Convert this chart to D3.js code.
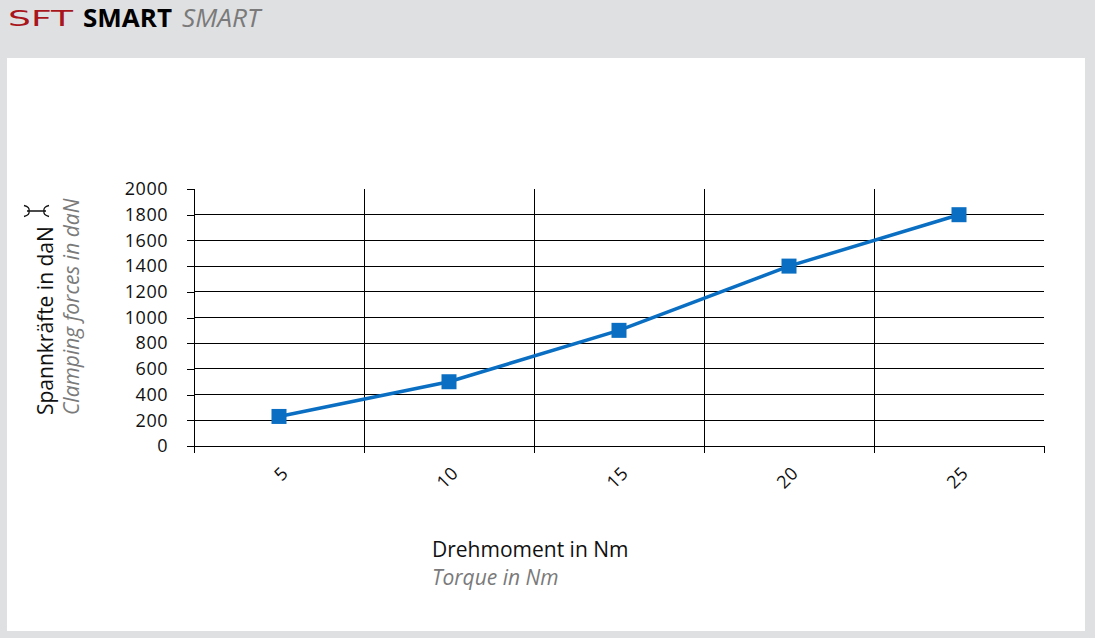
<!DOCTYPE html>
<html><head><meta charset="utf-8">
<script src="https://cdn.jsdelivr.net/npm/d3@7"></script>
<style>html,body{margin:0;padding:0;background:#dfe0e2;}svg{display:block;}</style>
</head><body>
<svg id="c" width="1095" height="638"></svg>
<script>
const categories = ["5", "10", "15", "20", "25"];
const values = [230, 500, 900, 1400, 1800];
const yTicks = [0, 200, 400, 600, 800, 1000, 1200, 1400, 1600, 1800, 2000];

const svg = d3.select("#c");
const font = "'Open Sans', 'Noto Sans', sans-serif";
svg.append("rect").attr("x",0).attr("y",0).attr("width",1095).attr("height",638).attr("fill","#dfe0e2");
svg.append("rect").attr("x",7).attr("y",58).attr("width",1078).attr("height",573).attr("fill","#ffffff");

// Header
svg.append("text").attr("x",8).attr("y",26).attr("font-family","'DejaVu Sans', sans-serif").attr("font-size",21)
  .attr("fill","#a8151b")
  .attr("textLength",65).attr("lengthAdjust","spacingAndGlyphs").text("SFT");
svg.append("text").attr("x",83).attr("y",27).attr("font-family",font).attr("font-size",25).attr("font-weight",700)
  .attr("fill","#000").attr("textLength",89).attr("lengthAdjust","spacingAndGlyphs").text("SMART");
svg.append("text").attr("x",182).attr("y",27).attr("font-family",font).attr("font-size",25).attr("font-style","italic")
  .attr("fill","#7a7a7a").attr("textLength",78).attr("lengthAdjust","spacingAndGlyphs").text("SMART");

const x0 = 194, x1 = 1044, yTop = 189, yBot = 446;
const x = d3.scaleBand().domain(categories).range([x0, x1]);
const y = d3.scaleLinear().domain([0, 2000]).range([yBot, yTop]);

const g = svg.append("g");
g.selectAll("line.h").data(yTicks.filter(d => d < 2000)).join("line")
  .attr("x1", x0).attr("x2", x1).attr("y1", d => y(d)).attr("y2", d => y(d))
  .attr("stroke","#000").attr("stroke-width",1).attr("shape-rendering","crispEdges");
g.selectAll("line.v").data(categories.slice(1)).join("line")
  .attr("x1", d => x(d)).attr("x2", d => x(d)).attr("y1", yTop).attr("y2", yBot)
  .attr("stroke","#000").attr("stroke-width",1).attr("shape-rendering","crispEdges");

// y axis
const yAxis = d3.axisLeft(y).tickValues(yTicks).tickSize(7).tickPadding(19).tickFormat(d3.format("d"));
const ya = svg.append("g").attr("transform", `translate(${x0},0)`).call(yAxis);
ya.select(".domain").attr("stroke","#000").attr("d", `M-7,${yTop}H0V${yBot}`).attr("shape-rendering","crispEdges");
ya.selectAll(".tick line").attr("stroke","#000").attr("shape-rendering","crispEdges");
ya.selectAll(".tick text").attr("font-family",font).attr("font-size",18).attr("letter-spacing",0.5).attr("fill","#111");

// x axis (ticks at band boundaries)
const xb = d3.scaleLinear().domain([0, categories.length]).range([x0, x1]);
const xa = svg.append("g").attr("transform", `translate(0,${yBot})`)
  .call(d3.axisBottom(xb).tickValues(d3.range(categories.length + 1)).tickSize(7).tickFormat(""));
xa.select(".domain").attr("stroke","#000").attr("d", `M${x0},0H${x1}`).attr("shape-rendering","crispEdges");
xa.selectAll(".tick line").attr("stroke","#000").attr("shape-rendering","crispEdges");
svg.append("g").selectAll("text").data(categories).join("text")
  .attr("transform", d => `translate(${x(d) + x.bandwidth()/2 + 7},${471}) rotate(-45)`)
  .attr("text-anchor","end").attr("dominant-baseline","middle")
  .attr("font-family",font).attr("font-size",18).attr("letter-spacing",0.5).attr("fill","#111").text(d => d);

// line
const line = d3.line().x((d,i) => x(categories[i]) + x.bandwidth()/2).y(d => y(d));
svg.append("path").datum(values).attr("d", line).attr("fill","none")
  .attr("stroke","#0a6fc2").attr("stroke-width",3.5);
svg.append("g").selectAll("rect").data(values).join("rect")
  .attr("x",(d,i) => x(categories[i]) + x.bandwidth()/2 - 7.5)
  .attr("y", d => y(d) - 7.5).attr("width",15).attr("height",15).attr("fill","#0a6fc2");

// y titles
svg.append("text").attr("transform","translate(53,415) rotate(-90)")
  .attr("font-family",font).attr("font-size",21).attr("fill","#111").text("Spannkräfte in daN");
svg.append("text").attr("transform","translate(79,415) rotate(-90)")
  .attr("font-family",font).attr("font-size",21).attr("font-style","italic").attr("fill","#7a7a7a").text("Clamping forces in daN");
// clamp symbol
svg.append("path").attr("d","M27,211H46 M24,205.5Q30,207 29,211Q30,215 24,216.5 M49,205.5Q43,207 44,211Q43,215 49,216.5")
  .attr("fill","none").attr("stroke","#111").attr("stroke-width",1.3);

// x titles
svg.append("text").attr("x",432).attr("y",557).attr("font-family",font).attr("font-size",21).attr("fill","#111").text("Drehmoment in Nm");
svg.append("text").attr("x",432).attr("y",585).attr("font-family",font).attr("font-size",21).attr("font-style","italic").attr("fill","#7a7a7a").text("Torque in Nm");
</script>
</body></html>
